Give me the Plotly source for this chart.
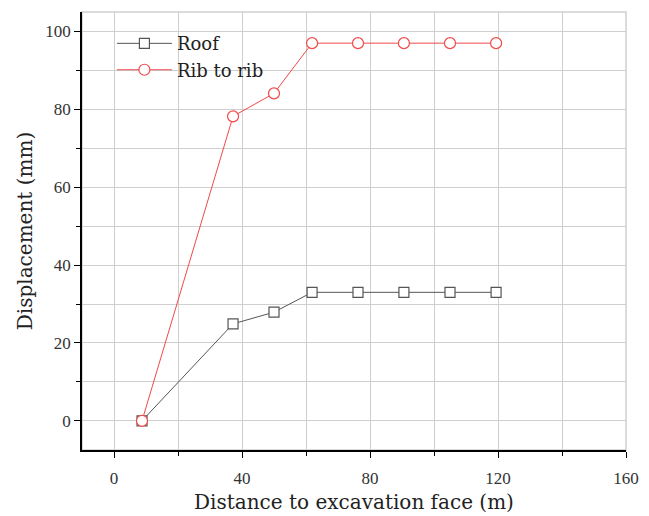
import plotly.graph_objects as go

distance = [8.75, 37.2, 50, 61.9, 76.25, 90.6, 105, 119.4]
roof = [0, 24.9, 27.9, 33, 33, 33, 33, 33]
rib_to_rib = [0, 78.2, 84.1, 97, 97, 97, 97, 97]

x_ticks = [0, 40, 80, 120, 160]
y_ticks = [0, 20, 40, 60, 80, 100]

title_font = "DejaVu Serif, Liberation Serif, serif"
serif = "Liberation Serif, Times New Roman, serif"

fig = go.Figure()
fig.add_trace(go.Scatter(
    x=distance, y=roof, name="Roof", mode="lines+markers",
    line=dict(color="#555555", width=1),
    marker=dict(symbol="square", size=10, color="white",
                line=dict(color="#555555", width=1.2)),
))
fig.add_trace(go.Scatter(
    x=distance, y=rib_to_rib, name="Rib to rib", mode="lines+markers",
    line=dict(color="#f04a4a", width=1),
    marker=dict(symbol="circle", size=11, color="white",
                line=dict(color="#f04a4a", width=1.2)),
))

fig.add_shape(type="rect", xref="paper", yref="paper", x0=0, y0=0, x1=1, y1=1,
              line=dict(color="#d0d0d0", width=1.5), layer="below")

# page body has an 8px default margin, so the figure is drawn 8px in from top-left
fig.update_layout(
    width=641, height=508,
    margin=dict(l=74, r=23, t=4, b=66, autoexpand=False),
    paper_bgcolor="white", plot_bgcolor="white",
    showlegend=True,
    legend=dict(x=0.055, y=0.97, xanchor="left", yanchor="top",
                bgcolor="rgba(0,0,0,0)", font=dict(family=title_font, size=18, color="#222"),
                tracegroupgap=0, itemwidth=55),
)
fig.update_xaxes(
    range=[-10, 160], tickvals=x_ticks, ticks="outside", ticklen=6, tickcolor="black",
    showline=True, linecolor="black", linewidth=1.5, zeroline=False, automargin=False,
    showgrid=True, gridcolor="#cfcfcf", gridwidth=1, ticklabelstandoff=6,
    minor=dict(dtick=20, tick0=0, ticks="outside", ticklen=4, tickcolor="black",
               showgrid=True, gridcolor="#cfcfcf"),
    tickfont=dict(family=serif, size=17, color="#333"),
    title=dict(text="Distance to excavation face (m)", standoff=8,
               font=dict(family=title_font, size=20, color="#222")),
)
fig.update_yaxes(
    range=[-7.5, 105], tickvals=y_ticks, ticks="outside", ticklen=6, tickcolor="black",
    showline=True, linecolor="black", linewidth=1.5, zeroline=False, automargin=False,
    showgrid=True, gridcolor="#cfcfcf", gridwidth=1,
    minor=dict(dtick=10, tick0=0, ticks="outside", ticklen=4, tickcolor="black",
               showgrid=True, gridcolor="#cfcfcf"),
    tickfont=dict(family=serif, size=17, color="#333"),
    title=dict(text="Displacement (mm)", standoff=7,
               font=dict(family=title_font, size=20, color="#222")),
)

fig.write_html("out.html")
